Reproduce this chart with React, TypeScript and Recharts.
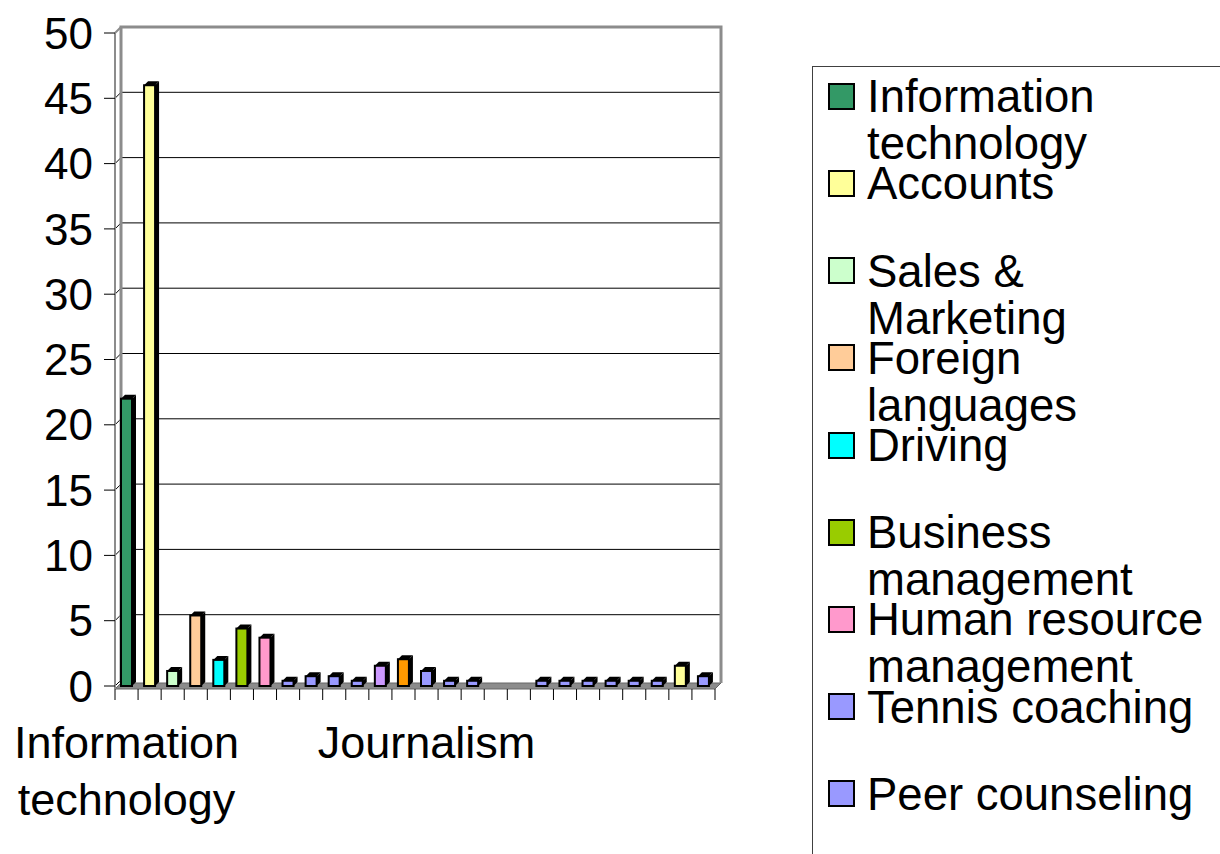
import React from 'react';
import { BarChart, Bar, XAxis, YAxis, CartesianGrid, ReferenceArea } from 'recharts';

// one bar per course, colours vary by point (Excel style)
const categories = [
  'Information technology', 'Accounts', 'Sales & Marketing', 'Foreign languages', 'Driving',
  'Business management', 'Human resource management', 'Tennis coaching', 'Peer counseling',
  'Course 10', 'Course 11', 'Course 12', 'Course 13', 'Journalism', 'Course 15', 'Course 16',
  'Course 17', 'Course 18', 'Course 19', 'Course 20', 'Course 21', 'Course 22', 'Course 23',
  'Course 24', 'Course 25', 'Course 26',
];
const shares = [
  22, 46, 1.15, 5.4, 2.0, 4.4, 3.7, 0.4, 0.75, 0.75, 0.4, 1.55, 2.05, 1.15, 0.4, 0.4,
  null, null, 0.4, 0.4, 0.4, 0.4, 0.4, 0.4, 1.55, 0.75,
];
const barColors = [
  '#339966', '#FFFF99', '#CCFFCC', '#FFCC99', '#00FFFF', '#99CC00', '#FF99CC', '#9999FF',
  '#9999FF', '#9999FF', '#9999FF', '#CC99FF', '#FF9900', '#9999FF', '#9999FF', '#9999FF',
  '#9999FF', '#9999FF', '#9999FF', '#9999FF', '#9999FF', '#9999FF', '#9999FF', '#9999FF',
  '#FFFF99', '#9999FF',
];
const yTicks = [0, 5, 10, 15, 20, 25, 30, 35, 40, 45, 50];
const legendShown = 9; // the rest falls below the page

const FONT = '"Liberation Sans", Arial, sans-serif';
const WALL = 6; // depth of the back wall
const BAR_DEPTH = 4;
const GREY = '#8c8c8c';

const data = categories.map((name, i) => ({ name, value: shares[i], color: barColors[i] }));

function Bar3D(props: any) {
  const { x, y, width: w, height: h, payload } = props;
  if (h == null || h <= 0 || x == null) return null;
  const d = BAR_DEPTH;
  return (
    <g>
      <polygon points={`${x},${y} ${x + d},${y - d} ${x + w + d},${y - d} ${x + w},${y}`} fill="#000" />
      <polygon
        points={`${x + w},${y} ${x + w + d},${y - d} ${x + w + d},${y + h - d} ${x + w},${y + h}`}
        fill="#000"
      />
      <rect x={x} y={y} width={w} height={h} fill={payload.color} stroke="#000" strokeWidth={2} />
    </g>
  );
}

// back wall and floor around the plot area
function WallsAndFloor(props: any) {
  const { x, y, width, height } = props;
  const b = y + height;
  const n = categories.length;
  const step = width / n;
  const ticks = [];
  for (let i = 0; i <= n; i++) {
    const tx = x + i * step;
    ticks.push(<line key={i} x1={tx} y1={b + 3} x2={tx} y2={b + 14} stroke="#000" strokeWidth={1} />);
  }
  return (
    <g>
      <polygon
        points={`${x},${b + 3} ${x + width},${b + 3} ${x + width + WALL},${b + 3 - WALL} ${x + WALL},${b + 3 - WALL}`}
        fill={GREY}
        stroke="#666"
        strokeWidth={1}
      />
      <polyline
        points={`${x + WALL},${b + 3 - WALL} ${x + WALL},${y - WALL} ${x + width + WALL},${y - WALL} ${x + width + WALL},${b + 3 - WALL}`}
        fill="none"
        stroke={GREY}
        strokeWidth={3}
      />
      <line x1={x} y1={y} x2={x + WALL} y2={y - WALL} stroke={GREY} strokeWidth={2} />
      <line x1={x} y1={y} x2={x} y2={b + 3} stroke={GREY} strokeWidth={2} />
      {ticks}
    </g>
  );
}

function gridLine(p: any) {
  const { x1, y1, x2, y } = p;
  if (Math.abs(y1 - y) < 1) return <g key={p.key} />;
  const isFloor = Math.abs(y1 - (p.y + p.height)) < 1;
  return (
    <g key={p.key}>
      <line x1={x1} y1={y1} x2={x1 + WALL} y2={y1 - WALL} stroke="#000" strokeWidth={1} />
      {!isFloor && <line x1={x1 + WALL} y1={y1 - WALL} x2={x2 + WALL} y2={y1 - WALL} stroke="#000" strokeWidth={1} />}
    </g>
  );
}

function XTick(props: any) {
  const { x, y, payload } = props;
  const words = String(payload.value).split(' ');
  return (
    <text x={x} y={y} textAnchor="middle" fontSize={45} fontFamily={FONT} fill="#000">
      {words.map((w, i) => (
        <tspan key={i} x={x} dy={i === 0 ? 72 : 57}>
          {w}
        </tspan>
      ))}
    </text>
  );
}

export default function App() {
  return (
    <div style={{ position: 'relative', width: 1220, height: 854, overflow: 'hidden', background: '#fff' }}>
      <style>{'body{margin:0;}'}</style>
      <div style={{ position: 'absolute', left: 0, top: 0 }}>
        <BarChart width={800} height={854} data={data} margin={{ top: 33, right: 85, bottom: 0, left: 0 }}>
          <CartesianGrid vertical={false} horizontal={gridLine} />
          <ReferenceArea y1={0} y2={50} ifOverflow="visible" shape={WallsAndFloor} />
          <XAxis
            dataKey="name"
            interval={12}
            height={168}
            tickSize={0}
            tickMargin={0}
            tickLine={false}
            axisLine={false}
            tick={<XTick />}
          />
          <YAxis
            type="number"
            domain={[0, 50]}
            ticks={yTicks}
            interval={0}
            width={115}
            tickSize={11}
            tickMargin={11}
            axisLine={false}
            tickLine={{ stroke: '#000' }}
            tick={{ fill: '#000', fontSize: 44, fontFamily: FONT }}
          />
          <Bar dataKey="value" barSize={11} shape={Bar3D} isAnimationActive={false} />
        </BarChart>
      </div>
      <div
        style={{
          position: 'absolute', left: 812, top: 66, width: 500, height: 900,
          borderLeft: '1px solid #404040', borderTop: '1px solid #404040',
        }}
      />
      {categories.slice(0, legendShown).map((c, i) => (
        <div key={c} style={{ position: 'absolute', left: 828, top: 73.2 + i * 87.2 }}>
          <div
            style={{
              position: 'absolute', left: 0, top: 9.5, width: 27, height: 27, boxSizing: 'border-box',
              border: '2px solid #000', background: barColors[i],
            }}
          />
          <div
            style={{
              position: 'absolute', left: 39, top: 0, width: 345, fontSize: 45.5, lineHeight: '47px',
              fontFamily: FONT, color: '#000',
            }}
          >
            {c}
          </div>
        </div>
      ))}
    </div>
  );
}
